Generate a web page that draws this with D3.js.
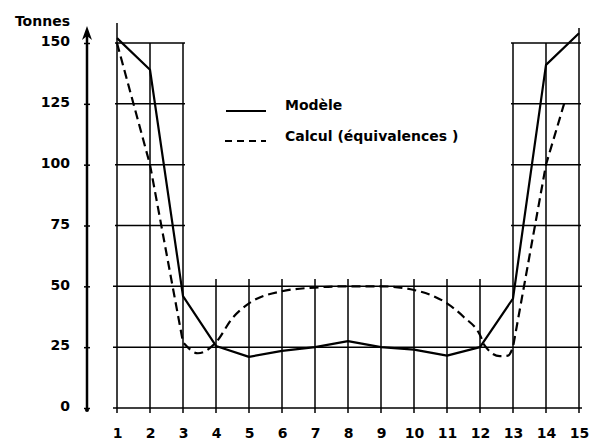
<!DOCTYPE html>
<html><head><meta charset="utf-8">
<script src="https://cdn.jsdelivr.net/npm/d3@7"></script>
<style>
html,body{margin:0;padding:0;background:#fff;}
text{font-family:"DejaVu Sans",sans-serif;fill:#000;}
</style></head>
<body><svg id="c" width="594" height="441"></svg>
<script>
const xCats = [1,2,3,4,5,6,7,8,9,10,11,12,13,14,15];
const yTicks = [0,25,50,75,100,125,150];
const modeleX = [1,2,3,4,5,6,7,8,9,10,11,12,13,14,15];
const modeleY = [152,139,46,25.5,21,23.5,25,27.5,25,24,21.5,25,45,141,154];
const calculX = [1,2,3,3.45,4,4.5,5,6,7,8,9,10,10.5,11,11.5,12,12.15,12.6,12.85,13,14,14.57];
const calculY = [150,100,27,22.5,27,37,43,48,49.5,50,50,48.5,46.5,43,37.5,30,25.5,21.3,21.5,25,100,126];
const tallCols = [1,2,3,13,14,15];
const lowCols = [4,5,6,7,8,9,10,11,12];
const fullRows = [0,25,50];
const sideRows = [75,100,125,150];
const legendLabels = ["Modèle","Calcul (équivalences )"];

const svg = d3.select("#c");
const x = d3.scaleLinear().domain([1,15]).range([117,579]);
const y = d3.scaleLinear().domain([0,150]).range([408,43]);
const FONT = "DejaVu Sans Condensed, DejaVu Sans";

const grid = svg.append("g").attr("stroke","#000").attr("stroke-width",1.5);
fullRows.forEach(v=>{
  grid.append("line").attr("x1",x(1)-4).attr("x2",x(15)+3).attr("y1",y(v)).attr("y2",y(v));
});
sideRows.forEach(v=>{
  grid.append("line").attr("x1",x(1)-2).attr("x2",x(3)+2).attr("y1",y(v)).attr("y2",y(v));
  grid.append("line").attr("x1",x(13)-2).attr("x2",x(15)+2).attr("y1",y(v)).attr("y2",y(v));
});
tallCols.forEach(c=>{
  let top = y(150);
  if(c===1) top = 23; if(c===15) top = 28;
  grid.append("line").attr("x1",x(c)).attr("x2",x(c)).attr("y1",top).attr("y2",y(0)+5);
});
lowCols.forEach(c=>{
  grid.append("line").attr("x1",x(c)).attr("x2",x(c)).attr("y1",y(53)).attr("y2",y(0)+5);
});

// x axis labels
const xa = svg.append("g").attr("transform",`translate(0,${y(0)})`)
  .call(d3.axisBottom(x).tickValues(xCats).tickSize(0).tickPadding(20).tickFormat(d3.format("d")));
xa.select(".domain").remove();
xa.selectAll("text").attr("font-size",14).attr("font-weight","bold").attr("font-family",FONT);

// y axis
const ax = 87;
const ya = svg.append("g").attr("transform",`translate(${ax},0)`)
  .call(d3.axisLeft(y).tickValues(yTicks).tickSize(3).tickPadding(14));
ya.select(".domain").remove();
ya.selectAll(".tick line").attr("x1",-3).attr("x2",3).attr("stroke-width",1.5);
ya.selectAll("text").attr("font-size",14).attr("font-weight","bold").attr("dy","0.2em").attr("font-family",FONT);
svg.append("line").attr("x1",ax).attr("x2",ax).attr("y1",32).attr("y2",y(0)+2).attr("stroke","#000").attr("stroke-width",2.5);
svg.append("path").attr("d",`M${ax},26 L${ax-5},40 L${ax},36 L${ax+5},40 Z`).attr("fill","#000");
svg.append("circle").attr("cx",ax).attr("cy",y(0)+2).attr("r",2).attr("fill","#000");
svg.append("text").attr("x",70).attr("y",26).attr("text-anchor","end").attr("font-size",14).attr("font-weight","bold")
  .attr("font-family",FONT).text("Tonnes");

// lines
const modele = modeleX.map((d,i)=>[d,modeleY[i]]);
const calcul = calculX.map((d,i)=>[d,calculY[i]]);
svg.append("path").datum(modele).attr("fill","none").attr("stroke","#000").attr("stroke-width",2.2)
  .attr("stroke-linejoin","round")
  .attr("d",d3.line().x(d=>x(d[0])).y(d=>y(d[1])));

// dashed: straight on the steep flanks, smooth in the valley
const lin = d3.line().x(d=>x(d[0])).y(d=>y(d[1]));
const smooth = d3.line().x(d=>x(d[0])).y(d=>y(d[1])).curve(d3.curveMonotoneX);
const i3 = calculX.indexOf(3), i13 = calculX.indexOf(13);
const dPath = lin(calcul.slice(0,i3+1)) +
  smooth(calcul.slice(i3,i13+1)).replace(/^M/,"L") +
  lin(calcul.slice(i13)).replace(/^M/,"L");
svg.append("path").attr("fill","none").attr("stroke","#000").attr("stroke-width",2.2)
  .attr("stroke-dasharray","9,5").attr("d",dPath);

// legend
const lg = svg.append("g");
lg.append("line").attr("x1",226).attr("x2",266).attr("y1",111).attr("y2",111).attr("stroke","#000").attr("stroke-width",2);
lg.append("line").attr("x1",225).attr("x2",266).attr("y1",141).attr("y2",141).attr("stroke","#000").attr("stroke-width",2).attr("stroke-dasharray","7,5");
lg.append("text").attr("x",285).attr("y",110).attr("font-size",14).attr("font-weight","bold").attr("font-family",FONT).text(legendLabels[0]);
lg.append("text").attr("x",285).attr("y",141).attr("font-size",14).attr("font-weight","bold").attr("font-family",FONT).text(legendLabels[1]);
</script></body></html>
